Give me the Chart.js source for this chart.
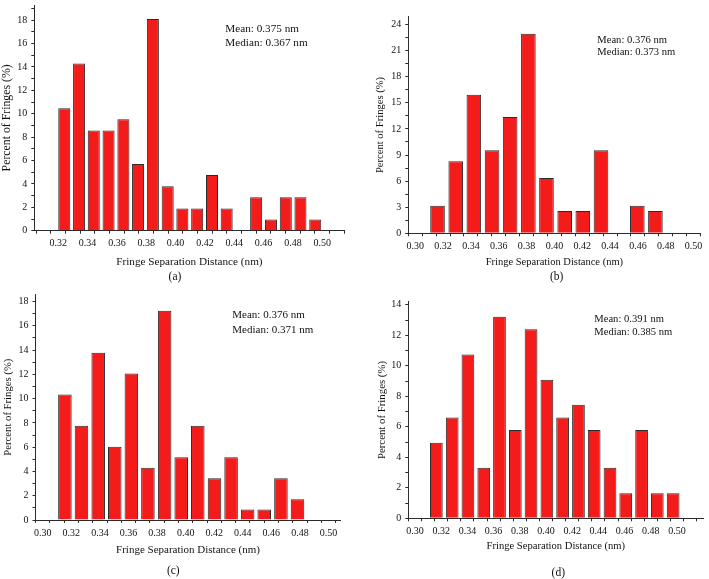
<!DOCTYPE html>
<html>
<head>
<meta charset="utf-8">
<script src="https://cdn.jsdelivr.net/npm/chart.js@4.4.0/dist/chart.umd.min.js"></script>
<style>
  body { margin: 0; background: #fff; }
  #wrap { position: relative; width: 709px; height: 579px; overflow: hidden; }
  canvas { position: absolute; }
</style>
</head>
<body>
<div id="wrap">
  <canvas id="chartA" width="355" height="290" style="left:0;top:0"></canvas>
  <canvas id="chartB" width="354" height="290" style="left:355px;top:0"></canvas>
  <canvas id="chartC" width="355" height="289" style="left:0;top:290px"></canvas>
  <canvas id="chartD" width="354" height="289" style="left:355px;top:290px"></canvas>
</div>
<script>
// bin centres (nm) and percent of fringes, one pair per panel
const binsA = [0.3241, 0.3342, 0.3442, 0.3543, 0.3644, 0.3744, 0.3845, 0.3946, 0.4046, 0.4147, 0.4248, 0.4348, 0.4449, 0.4549, 0.4650, 0.4751, 0.4851, 0.4952];
const pctA = [10.48, 14.29, 8.57, 8.57, 9.52, 5.71, 18.10, 3.81, 1.90, 1.90, 4.76, 1.90, 0, 2.86, 0.95, 2.86, 2.86, 0.95];

const binsB = [0.3160, 0.3291, 0.3421, 0.3552, 0.3682, 0.3813, 0.3943, 0.4074, 0.4204, 0.4335, 0.4465, 0.4596, 0.4726];
const pctB = [3.18, 8.28, 15.92, 9.55, 13.38, 22.93, 6.37, 2.55, 2.55, 9.55, 0, 3.18, 2.55];

const binsC = [0.3155, 0.3271, 0.3388, 0.3504, 0.3620, 0.3736, 0.3853, 0.3969, 0.4085, 0.4202, 0.4318, 0.4434, 0.4550, 0.4667, 0.4783];
const pctC = [10.34, 7.76, 13.79, 6.03, 12.07, 4.31, 17.24, 5.17, 7.76, 3.45, 5.17, 0.86, 0.86, 3.45, 1.72];

const binsD = [0.3163, 0.3284, 0.3404, 0.3525, 0.3645, 0.3766, 0.3886, 0.4007, 0.4127, 0.4248, 0.4368, 0.4489, 0.4609, 0.4730, 0.4850, 0.4971];
const pctD = [4.96, 6.61, 10.74, 3.31, 13.22, 5.79, 12.40, 9.09, 6.61, 7.44, 5.79, 3.31, 1.65, 5.79, 1.65, 1.65];

// labelled (major) ticks
const xMajorA = [0.32, 0.34, 0.36, 0.38, 0.40, 0.42, 0.44, 0.46, 0.48, 0.50];
const xMajor = [0.30, 0.32, 0.34, 0.36, 0.38, 0.40, 0.42, 0.44, 0.46, 0.48, 0.50];
const yMajorA = [0, 2, 4, 6, 8, 10, 12, 14, 16, 18];
const yMajorB = [0, 3, 6, 9, 12, 15, 18, 21, 24];
const yMajorC = [0, 2, 4, 6, 8, 10, 12, 14, 16, 18];
const yMajorD = [0, 2, 4, 6, 8, 10, 12, 14];

const statsA = ['Mean: 0.375 nm', 'Median: 0.367 nm'];
const statsB = ['Mean: 0.376 nm', 'Median: 0.373 nm'];
const statsC = ['Mean: 0.376 nm', 'Median: 0.371 nm'];
const statsD = ['Mean: 0.391 nm', 'Median: 0.385 nm'];

const RED = '#f41b1b';
const EDGE = '#2b2b2b';
const INK = '#111';

Chart.defaults.font.family = '"Liberation Serif", "Times New Roman", serif';
Chart.defaults.color = INK;

// majors plus a minor tick half way between them (and half a step past each end if it fits)
function withMinor(majors, min, max) {
  const step = majors[1] - majors[0];
  const out = [];
  const first = majors[0] - step / 2;
  if (first >= min) out.push(first);
  majors.forEach((v, i) => {
    out.push(v);
    const m = v + step / 2;
    if (i < majors.length - 1 || m <= max) out.push(m);
  });
  return out.filter(v => v >= min - 1e-9 && v <= max + 1e-9);
}

const panelText = {
  id: 'panelText',
  afterDraw(chart, args, o) {
    const ctx = chart.ctx;
    ctx.save();
    ctx.fillStyle = INK;
    ctx.font = o.size + 'px "Liberation Serif"';
    ctx.textBaseline = 'middle';
    ctx.textAlign = 'left';
    o.lines.forEach((t, i) => ctx.fillText(t, o.x, o.y[i]));
    ctx.font = o.letterSize + 'px "Liberation Serif"';
    ctx.textAlign = 'center';
    ctx.fillText(o.letter, o.letterX, o.letterY);
    ctx.restore();
  }
};

function panel(id, bins, pct, c) {
  const isMajor = (list, v) => list.some(m => Math.abs(m - v) < 1e-6);
  new Chart(document.getElementById(id), {
    type: 'bar',
    data: {
      datasets: [{
        data: bins.map((x, i) => ({ x: x, y: pct[i] })),
        backgroundColor: RED,
        borderColor: EDGE,
        borderWidth: 1,
        barPercentage: c.barPct,
        categoryPercentage: 1
      }]
    },
    plugins: [panelText],
    options: {
      responsive: false,
      animation: false,
      events: [],
      layout: { padding: { left: 0, top: c.padTop, right: c.padRight, bottom: 0 } },
      plugins: {
        legend: { display: false },
        tooltip: { enabled: false },
        panelText: c.text
      },
      scales: {
        x: {
          type: 'linear',
          bounds: 'data',
          min: c.xMin,
          max: c.xMax,
          border: { display: true, color: EDGE, width: 1 },
          grid: { display: true, drawOnChartArea: false, drawTicks: true, tickLength: 3, tickColor: EDGE },
          afterBuildTicks: s => { s.ticks = withMinor(c.xMajor, c.xMin, c.xMax).map(v => ({ value: v })); },
          ticks: {
            autoSkip: false, minRotation: 0, maxRotation: 0, padding: 4,
            font: { size: c.tickSize },
            callback: v => isMajor(c.xMajor, v) ? v.toFixed(2) : ''
          },
          title: {
            display: true, text: 'Fringe Separation Distance (nm)',
            font: { size: c.titleSize }, padding: { top: 0, bottom: c.xTitlePad }
          },
          afterFit: s => { s.height = c.xAxisH; s.paddingLeft = 0; s.paddingRight = 0; }
        },
        y: {
          type: 'linear',
          bounds: 'data',
          min: 0,
          max: c.yMax,
          border: { display: true, color: EDGE, width: 1 },
          grid: { display: true, drawOnChartArea: false, drawTicks: true, tickLength: 3, tickColor: EDGE },
          afterBuildTicks: s => { s.ticks = withMinor(c.yMajor, 0, c.yMax).map(v => ({ value: v })); },
          ticks: {
            autoSkip: false, padding: 4,
            font: { size: c.tickSize },
            callback: v => isMajor(c.yMajor, v) ? String(Math.round(v)) : ''
          },
          title: {
            display: true, text: 'Percent of Fringes (%)',
            font: { size: c.yTitleSize }, padding: { top: c.yTitlePad, bottom: 0 }
          },
          afterFit: s => { s.width = c.yAxisW; s.paddingTop = 0; s.paddingBottom = 0; }
        }
      }
    }
  });
}

panel('chartA', binsA, pctA, {
  xMin: 0.3087, xMax: 0.5101, xMajor: xMajorA, yMax: 19.3, yMajor: yMajorA,
  barPct: 0.82, padTop: 5, padRight: 10.5, yAxisW: 34.3, xAxisH: 59.3,
  tickSize: 10, titleSize: 11.2, yTitleSize: 11.8, xTitlePad: 21.2, yTitlePad: 0,
  text: { lines: statsA, x: 225.3, y: [29.3, 43.3], size: 11.2, letter: '(a)', letterX: 175, letterY: 277, letterSize: 11.5 }
});

panel('chartB', binsB, pctB, {
  xMin: 0.30, xMax: 0.50, xMajor: xMajor, yMax: 24.9, yMajor: yMajorB,
  barPct: 1.05, padTop: 16.7, padRight: 8.5, yAxisW: 53.3, xAxisH: 56.7,
  tickSize: 10, titleSize: 10.5, yTitleSize: 10.6, xTitlePad: 21.4, yTitlePad: 19.2,
  text: { lines: statsB, x: 242.3, y: [40, 52.7], size: 10.6, letter: '(b)', letterX: 201.7, letterY: 277, letterSize: 11.5 }
});

panel('chartC', binsC, pctC, {
  xMin: 0.30, xMax: 0.5033, xMajor: xMajor, yMax: 18.6, yMajor: yMajorC,
  barPct: 0.947, padTop: 4.3, padRight: 14.5, yAxisW: 35.5, xAxisH: 59,
  tickSize: 10, titleSize: 11, yTitleSize: 10.7, xTitlePad: 22.4, yTitlePad: 1.6,
  text: { lines: statsC, x: 232.3, y: [25, 40], size: 11, letter: '(c)', letterX: 173.3, letterY: 281, letterSize: 11.5 }
});

panel('chartD', binsD, pctD, {
  xMin: 0.30, xMax: 0.515, xMajor: xMajor, yMax: 14.2, yMajor: yMajorD,
  barPct: 0.97, padTop: 11.7, padRight: 5.7, yAxisW: 53.3, xAxisH: 60.7,
  tickSize: 10, titleSize: 10.6, yTitleSize: 10.8, xTitlePad: 26, yTitlePad: 20.2,
  text: { lines: statsD, x: 239.3, y: [29, 42.3], size: 10.6, letter: '(d)', letterX: 203.3, letterY: 283.3, letterSize: 11.5 }
});
</script>
</body>
</html>
